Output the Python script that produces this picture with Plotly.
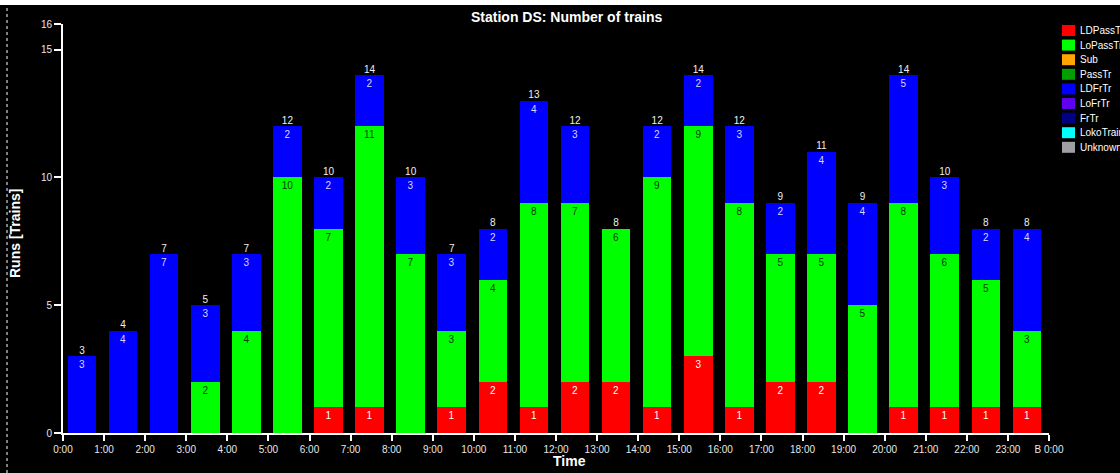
import plotly.graph_objects as go

hours = list(range(24))
tick_text = [f"{h}:00" for h in range(24)] + ["B 0:00"]

ld_pass = [0, 0, 0, 0, 0, 0, 1, 1, 0, 1, 2, 1, 2, 2, 1, 3, 1, 2, 2, 0, 1, 1, 1, 1]
lo_pass = [0, 0, 0, 2, 4, 10, 7, 11, 7, 3, 4, 8, 7, 6, 9, 9, 8, 5, 5, 5, 8, 6, 5, 3]
ld_fr = [3, 4, 7, 3, 3, 2, 2, 2, 3, 3, 2, 4, 3, 0, 2, 2, 3, 2, 4, 4, 5, 3, 2, 4]
empty = [0] * 24

series = [
    ("LDPassTr", ld_pass, "#FF0000", "#FFFFFF"),
    ("LoPassTr", lo_pass, "#00FF00", "#083808"),
    ("Sub", empty, "#FFA500", "#000000"),
    ("PassTr", empty, "#00A000", "#000000"),
    ("LDFrTr", ld_fr, "#0000FF", "#D8D8FF"),
    ("LoFrTr", empty, "#6000F0", "#FFFFFF"),
    ("FrTr", empty, "#000080", "#FFFFFF"),
    ("LokoTrain", empty, "#00FFFF", "#000000"),
    ("Unknown", empty, "#A0A0A4", "#000000"),
]

totals = [sum(v) for v in zip(ld_pass, lo_pass, ld_fr)]

BAR_OFFSET = 0.114
BAR_WIDTH = 0.696
FONT = "Liberation Sans, Arial, sans-serif"

fig = go.Figure()
for name, vals, color, tcolor in series:
    fig.add_trace(go.Bar(
        name=name, x=hours, y=vals,
        offset=BAR_OFFSET, width=BAR_WIDTH,
        marker=dict(color=color, line=dict(width=0)),
        text=[str(v) if v else "" for v in vals],
        texttemplate="%{text}",
        textposition="inside", insidetextanchor="end", textangle=0,
        constraintext="none",
        textfont=dict(color=tcolor, size=10, family=FONT),
        hoverinfo="skip", showlegend=False,
    ))

fig.add_trace(go.Scatter(
    x=[h + BAR_OFFSET + BAR_WIDTH / 2 for h in hours], y=totals,
    mode="text", text=[str(t) for t in totals], textposition="top center",
    textfont=dict(color="#F0F0F0", size=10, family=FONT),
    showlegend=False, hoverinfo="skip",
))

TOP_STRIP = 5  # white page strip above the black chart
L, R, T, B = 63, 71, 24 - TOP_STRIP, 40
W, H = 1120, 473 - TOP_STRIP
pw, ph = W - L - R, H - T - B


def px_x(p):
    return (p - L) / pw


def px_y(p):
    # p is a page pixel row; figure starts TOP_STRIP px down the page
    return 1 - (p - TOP_STRIP - T) / ph


shapes = [
    dict(type="line", xref="paper", yref="paper", x0=px_x(7), x1=px_x(7),
         y0=px_y(473), y1=px_y(TOP_STRIP), line=dict(color="#FFFFFF", width=1, dash="dot")),
]
annotations = [
    dict(text="<b>Station DS: Number of trains</b>", xref="paper", yref="paper",
         x=px_x(567), y=px_y(17), xanchor="center", yanchor="middle", showarrow=False,
         font=dict(size=14, color="#FFFFFF", family=FONT)),
    dict(text="<b>Time</b>", xref="paper", yref="paper",
         x=px_x(569), y=px_y(461), xanchor="center", yanchor="middle", showarrow=False,
         font=dict(size=14, color="#FFFFFF", family=FONT)),
    dict(text="<b>Runs [Trains]</b>", xref="paper", yref="paper", textangle=-90,
         x=px_x(15), y=px_y(234), xanchor="center", yanchor="middle", showarrow=False,
         font=dict(size=14, color="#FFFFFF", family=FONT)),
]
# manual legend (compact spacing as in the reference)
for i, (name, vals, color, tcolor) in enumerate(series):
    top = 25 + i * 14.6
    shapes.append(dict(type="rect", xref="paper", yref="paper",
                       x0=px_x(1062), x1=px_x(1075), y0=px_y(top + 11), y1=px_y(top),
                       fillcolor=color, line=dict(width=0)))
    annotations.append(dict(text=name, xref="paper", yref="paper", x=px_x(1078),
                            y=px_y(top + 5.5), xanchor="left", yanchor="middle",
                            showarrow=False, font=dict(size=10, color="#FFFFFF", family=FONT)))

fig.update_layout(
    width=W, height=H,
    margin=dict(l=L, r=R, t=T, b=B, pad=0, autoexpand=False),
    paper_bgcolor="#000000", plot_bgcolor="#000000",
    barmode="stack", bargap=0, showlegend=False,
    font=dict(family=FONT, color="#FFFFFF", size=10),
    xaxis=dict(range=[0, 24], tickvals=list(range(25)), ticktext=tick_text,
               showgrid=False, zeroline=False, showline=True, linecolor="#FFFFFF", linewidth=2,
               ticks="outside", ticklen=6, tickwidth=2, tickcolor="#FFFFFF",
               tickfont=dict(size=10, color="#E8E8E8", family=FONT)),
    yaxis=dict(range=[0, 16], tickvals=[0, 5, 10, 15, 16],
               showgrid=False, zeroline=False, showline=True, linecolor="#FFFFFF", linewidth=2,
               ticks="outside", ticklen=7, tickwidth=2, tickcolor="#FFFFFF",
               tickfont=dict(size=10, color="#E8E8E8", family=FONT)),
    shapes=shapes,
    annotations=annotations,
)

fig.write_html(
    "out.html",
    config={"displayModeBar": False},
    post_script="document.body.style.margin='0';"
                f"document.body.style.padding='{TOP_STRIP}px 0 0 0';"
                "document.body.style.overflow='hidden';document.body.style.background='#FFFFFF';",
)
